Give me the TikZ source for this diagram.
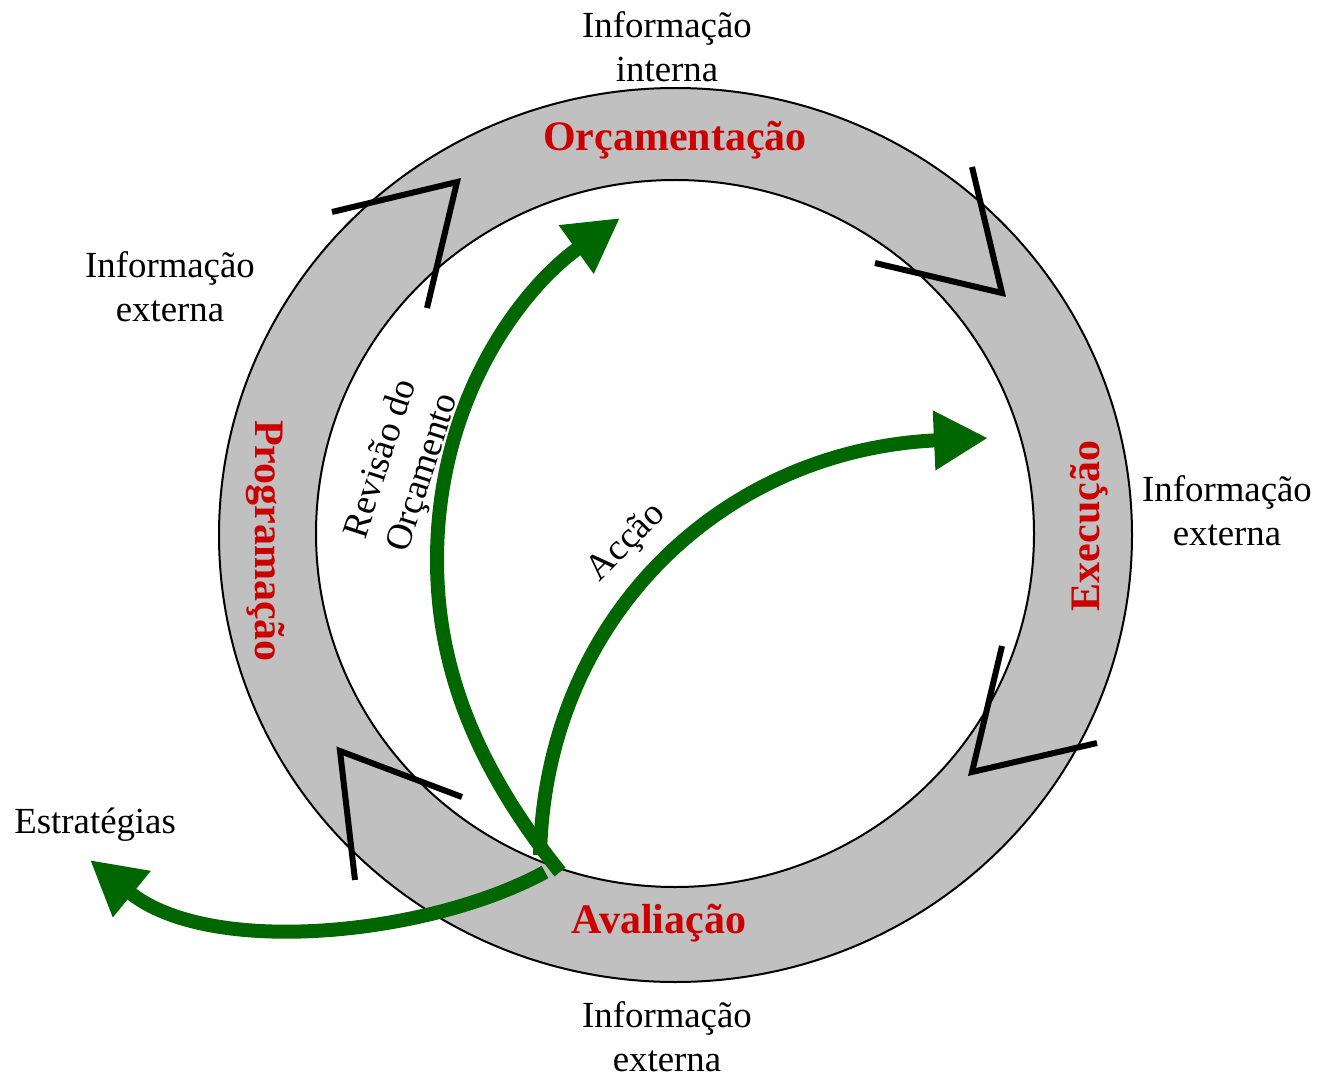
\documentclass[tikz,border=0pt]{standalone}
\usepackage{fontspec}
\setmainfont{Liberation Serif}
\usetikzlibrary{arrows.meta}
\definecolor{ringgray}{RGB}{192,192,192}
\definecolor{lblred}{RGB}{204,0,0}
\definecolor{arrgreen}{RGB}{0,102,0}
\begin{document}
\begin{tikzpicture}[x=0.5pt,y=-0.5pt,
  info/.style={font=\fontsize{18.4}{22}\selectfont, align=center, inner sep=0pt},
  phase/.style={font=\fontsize{21}{25}\selectfont\bfseries, text=lblred, inner sep=0pt},
  chev/.style={line width=3pt, line join=miter, black},
  garrow/.style={arrgreen, line width=7pt, -{Triangle[length=27pt,width=28pt]}},
]
\useasboundingbox (0,0) rectangle (1322,1075);
% ring
\path[fill=ringgray, even odd rule]
  (675.5,535) ellipse [x radius=456.5, y radius=447]
  (675,533.5) ellipse [x radius=359, y radius=353.5];
\draw[line width=1pt] (675.5,535) ellipse [x radius=456.5, y radius=447];
\draw[line width=1pt] (675,533.5) ellipse [x radius=359, y radius=353.5];
% chevrons
\draw[chev] (332,212) -- (457,182) -- (427,308);
\draw[chev] (972,167) -- (1002,293) -- (875,263);
\draw[chev] (1002,646) -- (972,772) -- (1097,743);
\draw[chev] (462,797) -- (340,751) -- (355,880);
% labels
\node[info] (ii) at (667,47) {Informação\\interna};
\node[info] (ie1) at (170,287) {Informação\\externa};
\node[info] (ie2) at (1227,511) {Informação\\externa};
\node[info] (ie3) at (667,1037) {Informação\\externa};
\node[info, anchor=west] (est) at (14,825) {Estratégias};
\node[phase] (orc) at (675,140) {Orçamentação};
\node[phase, rotate=-90] (prog) at (265,541) {Programação};
\node[phase, rotate=90] (exe) at (1089,526) {Execução};
\node[phase] (ava) at (659,923) {Avaliação};
\node[info, rotate=72] (rev) at (403,466) {Revisão do\\Orçamento};
\node[info, rotate=45] (acc) at (627,543) {Acção};
% green arrows
\coordinate (revS) at (560,872);
\coordinate (revM) at (437,560);
\coordinate (revT) at (620,218);
\coordinate (accS) at (540,855);
\coordinate (accT) at (988,438);
\coordinate (estS) at (545,872);
\coordinate (estT) at (90,860);
\draw[garrow] (revS) .. controls (470,760) and (437,660) .. (revM)
  .. controls (437,400) and (520,290) .. (revT);
\draw[garrow] (accS) .. controls (545,620) and (720,450) .. (accT);
\draw[garrow] (estS) .. controls (430,935) and (210,958) .. (estT);
\end{tikzpicture}
\end{document}
